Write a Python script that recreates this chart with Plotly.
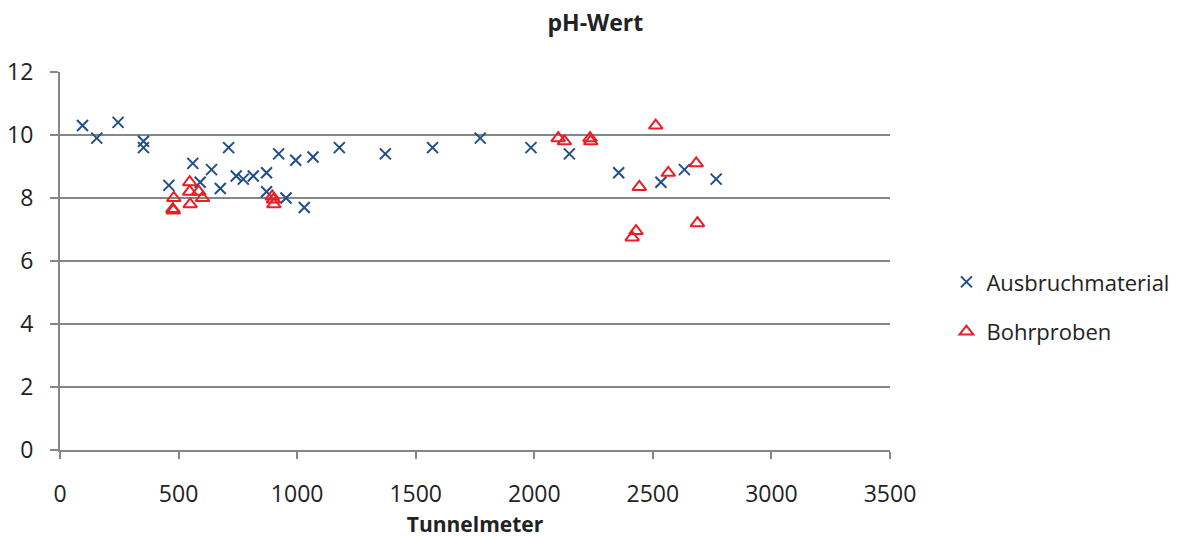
import plotly.graph_objects as go

# Ausbruchmaterial (excavated material): Tunnelmeter, pH
ausbruch_x = [95, 155, 245, 352, 352, 459, 560, 639, 591, 676, 711, 743, 773, 815, 871, 871,
              922, 953, 994, 1067, 1030, 1178, 1372, 1571, 1772, 1986, 2148, 2356, 2534, 2633, 2767]
ausbruch_y = [10.3, 9.9, 10.4, 9.8, 9.6, 8.4, 9.1, 8.9, 8.5, 8.3, 9.6, 8.7, 8.6, 8.7, 8.8, 8.2,
              9.4, 8.0, 9.2, 9.3, 7.7, 9.6, 9.4, 9.6, 9.9, 9.6, 9.4, 8.8, 8.5, 8.9, 8.6]

# Bohrproben (drill samples)
bohr_x = [480, 476, 478, 547, 547, 549, 585, 601, 895, 900, 902,
          2101, 2127, 2235, 2238, 2512, 2683, 2565, 2443, 2429, 2413, 2688]
bohr_y = [8.0, 7.65, 7.6, 8.5, 8.2, 7.8, 8.2, 8.0, 8.05, 7.95, 7.8,
          9.9, 9.8, 9.9, 9.8, 10.3, 9.1, 8.8, 8.35, 6.95, 6.75, 7.2]

title_text = "pH-Wert"
x_title = "Tunnelmeter"
x_ticks = [0, 500, 1000, 1500, 2000, 2500, 3000, 3500]
y_ticks = [0, 2, 4, 6, 8, 10, 12]

FONT = "Open Sans"
GRID = "#868686"
TXT = "#222222"

fig = go.Figure()
fig.add_trace(go.Scatter(
    x=ausbruch_x, y=ausbruch_y, mode="markers", name="Ausbruchmaterial",
    legendgroup="a",
    marker=dict(symbol="x-thin", size=11, line=dict(width=2, color="#1F4E8C"), color="#1F4E8C"),
))
fig.add_trace(go.Scatter(
    x=bohr_x, y=bohr_y, mode="markers", name="Bohrproben",
    legendgroup="b",
    marker=dict(symbol="triangle-up-open", size=12, line=dict(width=2, color="#EE1C25"), color="#EE1C25"),
))

fig.update_layout(
    width=1179, height=538,
    margin=dict(l=60, r=289, t=72, b=88, autoexpand=False),
    paper_bgcolor="white", plot_bgcolor="white",
    font=dict(family=FONT, color=TXT, size=22),
    title=dict(text="<b>" + title_text + "</b>", x=0.505, xref="container", xanchor="center",
               y=0.958, yref="container", yanchor="middle",
               font=dict(family=FONT, size=23, color=TXT)),
    showlegend=True,
    legend=dict(x=1.068, xanchor="left", y=0.378, yanchor="middle", xref="paper", yref="paper",
                font=dict(family=FONT, size=22, color=TXT), tracegroupgap=18,
                bgcolor="rgba(0,0,0,0)"),
    xaxis=dict(range=[0, 3500], tickvals=x_ticks, ticktext=[str(v) for v in x_ticks],
               showgrid=False, zeroline=False, showline=True, linecolor=GRID, linewidth=2,
               ticks="outside", ticklen=7, tickwidth=2, tickcolor=GRID,
               ticklabelstandoff=15, automargin=False,
               tickfont=dict(family=FONT, size=23, color=TXT),
               title=dict(text="<b>" + x_title + "</b>", standoff=12,
                          font=dict(family=FONT, size=21, color=TXT))),
    yaxis=dict(range=[0, 12], tickvals=y_ticks, ticktext=[str(v) for v in y_ticks],
               showgrid=True, gridcolor=GRID, gridwidth=2, zeroline=False,
               showline=True, linecolor=GRID, linewidth=2,
               ticks="outside", ticklen=8, tickwidth=2, tickcolor=GRID,
               ticklabelstandoff=12, automargin=False,
               tickfont=dict(family=FONT, size=23, color=TXT)),
)

fig.write_html("out.html")
